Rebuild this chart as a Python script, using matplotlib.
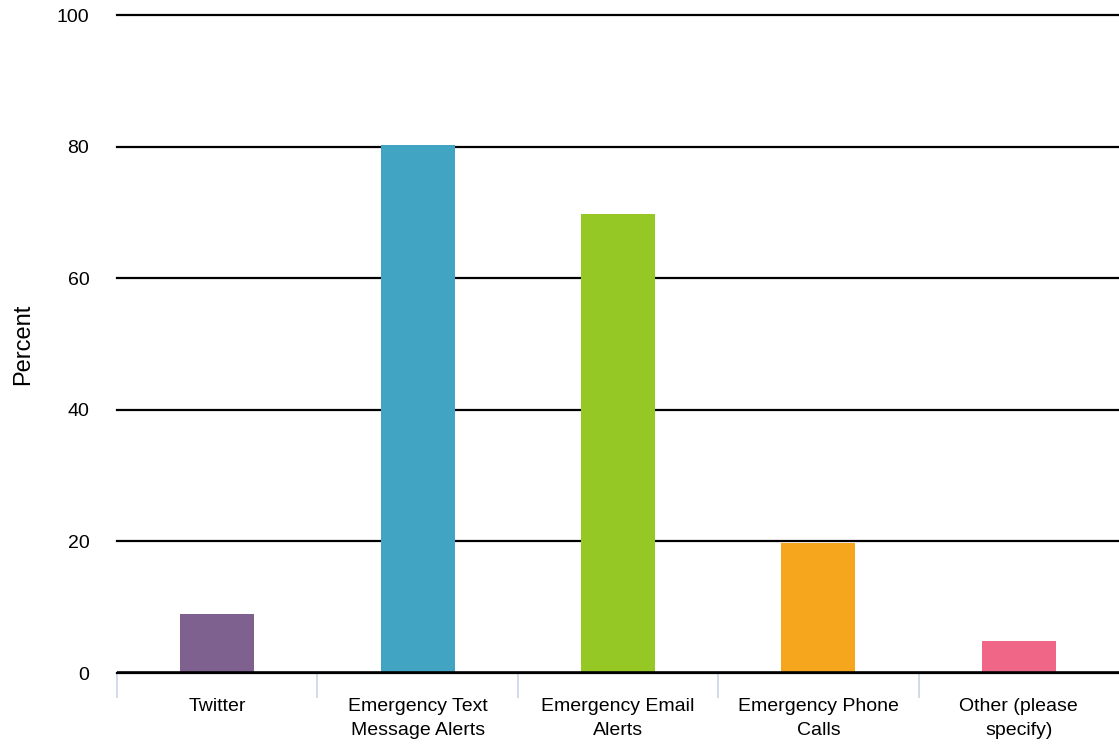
import matplotlib

matplotlib.use("Agg")
import matplotlib.pyplot as plt

plt.rcParams["font.family"] = ["Liberation Sans", "DejaVu Sans"]

categories = [
    "Twitter",
    "Emergency Text\nMessage Alerts",
    "Emergency Email\nAlerts",
    "Emergency Phone\nCalls",
    "Other (please\nspecify)",
]
percent = [9.0, 80.3, 69.7, 19.7, 4.9]
colors = ["#7f6190", "#41a4c3", "#96c825", "#f5a61c", "#f06686"]
y_ticks = [0, 20, 40, 60, 80, 100]

fig = plt.figure(figsize=(11.19, 7.44), dpi=100)
ax = fig.add_axes([0.1046, 0.0954, 0.8954, 0.8844])

x = list(range(len(categories)))
ax.bar(x, percent, width=0.37, color=colors, zorder=3)

ax.set_xlim(-0.5, len(categories) - 0.5)
ax.set_ylim(0, 100)
ax.set_yticks(y_ticks)
ax.yaxis.grid(True, color="black", linewidth=1.6, zorder=1)
ax.set_axisbelow(True)
for gl in ax.get_ygridlines():
    gl.set_clip_on(False)

for side in ["top", "right", "left", "bottom"]:
    ax.spines[side].set_visible(False)
ax.axhline(0, color="black", linewidth=2.6, zorder=4)

ax.set_xticks(x)
ax.set_xticklabels(categories, fontsize=14, linespacing=1.5)
ax.tick_params(axis="x", which="major", length=0, pad=18)
ax.set_xticks([i - 0.5 for i in x], minor=True)
ax.tick_params(axis="x", which="minor", length=18, width=1.2, color="#c8d4e6")
ax.tick_params(axis="y", length=0, pad=20, labelsize=14)

ax.set_ylabel("Percent", fontsize=17)
ax.yaxis.set_label_coords(-0.083, 0.5)

fig.savefig("out.png", dpi=100, facecolor="white")
